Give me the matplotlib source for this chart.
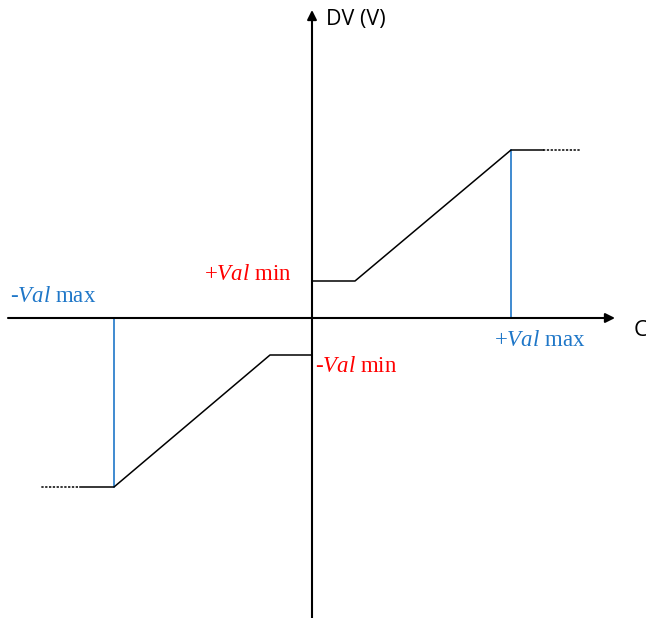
import matplotlib.pyplot as plt

plt.rcParams['mathtext.fontset'] = 'custom'
plt.rcParams['mathtext.it'] = 'Liberation Serif:italic'
plt.rcParams['mathtext.rm'] = 'Liberation Serif'

# positive branch (x, y), origin at axis crossing
pos_x = [0, 43, 199, 231]
pos_y = [37, 37, 168, 168]
pos_dot_x = [231, 268]
pos_dot_y = [168, 168]

# negative branch
neg_x = [0, -42, -198, -232]
neg_y = [-37, -37, -169, -169]
neg_dot_x = [-234, -272]
neg_dot_y = [-169, -169]

# blue markers for Val max
vmax_x = [199, -198]
vmax_y = [168, -169]

# axis extents
x_axis = [-304, 303]
y_axis = [-300, 308]

blue = '#1f77c8'
red = '#ff0000'

fig = plt.figure(figsize=(6.46, 6.18), dpi=100)
ax = fig.add_axes([0, 0, 1, 1])
ax.set_xlim(-312, 334)
ax.set_ylim(-300, 318)
ax.axis('off')

# axes with arrows
ax.annotate('', xy=(x_axis[1], 0), xytext=(x_axis[0], 0),
            arrowprops=dict(arrowstyle='-|>', color='black', lw=1.5,
                            mutation_scale=14, shrinkA=0, shrinkB=0))
ax.annotate('', xy=(0, y_axis[1]), xytext=(0, y_axis[0]),
            arrowprops=dict(arrowstyle='-|>', color='black', lw=1.5,
                            mutation_scale=14, shrinkA=0, shrinkB=0))

# blue verticals
for xv, yv in zip(vmax_x, vmax_y):
    ax.plot([xv, xv], [0, yv], color=blue, lw=1.2)

# characteristic
ax.plot(pos_x, pos_y, color='black', lw=1.1)
ax.plot(neg_x, neg_y, color='black', lw=1.1)
ax.plot(pos_dot_x, pos_dot_y, color='black', lw=1.1, ls=(0, (1.5, 1)))
ax.plot(neg_dot_x, neg_dot_y, color='black', lw=1.1, ls=(0, (1.5, 1)))

# labels
ax.text(14, 298, 'DV (V)', fontsize=15.5, family='Open Sans', va='center', ha='left')
ax.text(322, -12, 'C', fontsize=16, family='Open Sans', va='center', ha='left')

serif = 'Liberation Serif'
ax.text(-302, 21, r'-$Val$ max', color=blue, fontsize=16.5, family=serif,
        va='center', ha='left')
ax.text(-20, 43, r'+$Val$ min', color=red, fontsize=16.5, family=serif,
        va='center', ha='right')
ax.text(3, -48, r'-$Val$ min', color=red, fontsize=16.5, family=serif,
        va='center', ha='left')
ax.text(182, -23, r'+$Val$ max', color=blue, fontsize=16.5, family=serif,
        va='center', ha='left')

fig.savefig('out.png', dpi=100)
